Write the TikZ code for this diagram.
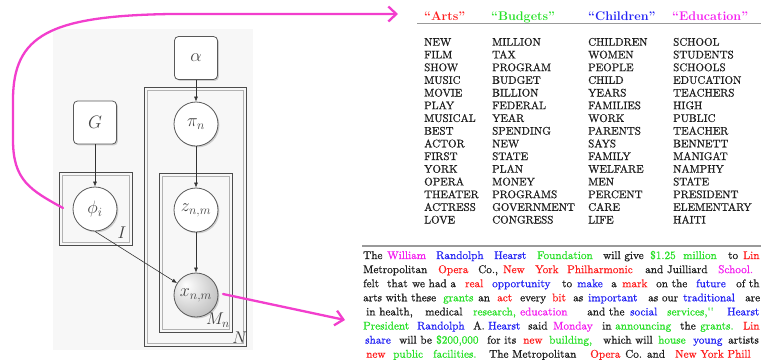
\RequirePackage{fix-cm}
\documentclass[tikz,border=0pt]{standalone}
\usepackage{fontspec}
\usetikzlibrary{arrows.meta,shadows}

% Latin Modern, set slightly heavier for the word lists and the document
\newfontfamily\heavyrm{lmroman10-regular.otf}[FakeBold=0.8]

\definecolor{hlmag}{RGB}{242,62,205}
\definecolor{tr}{RGB}{255,30,30}
\definecolor{tg}{RGB}{40,225,40}
\definecolor{tb}{RGB}{35,35,245}
\definecolor{tm}{RGB}{245,30,240}
\definecolor{tk}{RGB}{30,30,30}
\definecolor{nodetext}{RGB}{70,70,70}

% shading of the observed variable: light spot towards the upper left
\pgfdeclareradialshading{obsball}{\pgfpoint{-12bp}{12bp}}{color(0bp)=(white); color(16bp)=(black!12); color(40bp)=(black!30); color(62bp)=(black!40)}

% one word of running text, set in a box of fixed width
\newcommand\wb[3]{\makebox[#1pt][l]{\textcolor{#2}{#3}}}

\tikzset{
  varnode/.style={circle, draw=black!65, line width=0.8pt, fill=white,
    minimum size=44pt, inner sep=0pt, text=nodetext,
    font=\fontsize{18}{18}\selectfont,
    drop shadow={shadow xshift=1.4pt, shadow yshift=-1.4pt, opacity=0.35}},
  obsnode/.style={varnode, shade, shading=obsball},
  hypnode/.style={rectangle, rounded corners=4pt, draw=black!65, line width=0.8pt,
    fill=white, minimum size=43pt, inner sep=0pt, text=nodetext,
    font=\fontsize{18}{18}\selectfont,
    drop shadow={shadow xshift=1.4pt, shadow yshift=-1.4pt, opacity=0.35}},
  edge/.style={-{Latex[length=5pt,width=4pt]}, black!80, line width=0.6pt},
  plate/.style={draw=black!70, line width=0.8pt},
  plateinner/.style={draw=black!30, line width=0.7pt},
  platelabel/.style={text=black!75, font=\fontsize{17}{17}\selectfont, inner sep=0pt},
  hl/.style={draw=hlmag, line width=2.3pt, line cap=round,
    -{Straight Barb[length=8pt,width=15pt,line width=2.3pt]}},
  rule/.style={draw=black!40, line width=1.1pt},
  hd/.style={anchor=base west, inner sep=0pt, font=\fontsize{12.5}{13}\selectfont\bfseries},
  tw/.style={anchor=base west, inner sep=0pt, text=tk, font=\heavyrm\fontsize{11}{12}\selectfont},
  para/.style={anchor=base west, inner sep=0pt, text=tk, font=\heavyrm\fontsize{11.2}{12}\selectfont},
}

\begin{document}
\begin{tikzpicture}[x=1pt,y=-1pt]
\useasboundingbox (0,0) rectangle (761,360);
\clip (0,0) rectangle (761,360);
\fill[white] (0,0) rectangle (761,360);

% ---------- graphical model ----------
\fill[black!3] (53,29) rectangle (253,350);

% plates
\draw[plate] (144,87) rectangle (246,346);
\draw[plateinner] (147,90) rectangle (243,343);
\draw[plate] (159,173) rectangle (232,332);
\draw[plateinner] (162,176) rectangle (229,329);
\draw[plate] (59,172) rectangle (132,245);
\draw[plateinner] (62,175) rectangle (129,242);

\node[platelabel] (labI) at (122,233) {$I$};
\node[platelabel] (labM) at (218,320) {$M_n$};
\node[platelabel] (labN) at (240,338) {$N$};

% variables
\node[hypnode] (alpha) at (196,58) {$\alpha$};
\node[hypnode] (G) at (95,122.5) {$G$};
\node[varnode] (pi) at (196,124) {$\pi_n$};
\node[varnode] (z) at (196,210) {$z_{n,m}$};
\node[obsnode] (x) at (196,295) {$x_{n,m}$};
\node[varnode] (phi) at (95,209) {$\phi_i$};

\draw[edge] (alpha) -- (pi);
\draw[edge] (G) -- (phi);
\draw[edge] (pi) -- (z);
\draw[edge] (z) -- (x);
\draw[edge] (phi.south) -- (x);

% ---------- topics ----------
\node[hd, text=tr] (hArts) at (424,20) {``Arts''};
\node[hd, text=tg] (hBudgets) at (491,20) {``Budgets''};
\node[hd, text=tb] (hChildren) at (588,20) {``Children''};
\node[hd, text=tm] (hEducation) at (672,20) {``Education''};
\draw[rule] (417,23.5) -- (761,23.5);

\foreach \w [count=\i] in {NEW,FILM,SHOW,MUSIC,MOVIE,PLAY,MUSICAL,BEST,ACTOR,FIRST,YORK,OPERA,THEATER,ACTRESS,LOVE}
  \node[tw] (ca\i) at (424,{45.7+12.7*(\i-1)}) {\w};
\foreach \w [count=\i] in {MILLION,TAX,PROGRAM,BUDGET,BILLION,FEDERAL,YEAR,SPENDING,NEW,STATE,PLAN,MONEY,PROGRAMS,GOVERNMENT,CONGRESS}
  \node[tw] (cb\i) at (492,{45.7+12.7*(\i-1)}) {\w};
\foreach \w [count=\i] in {CHILDREN,WOMEN,PEOPLE,CHILD,YEARS,FAMILIES,WORK,PARENTS,SAYS,FAMILY,WELFARE,MEN,PERCENT,CARE,LIFE}
  \node[tw] (cc\i) at (588,{45.7+12.7*(\i-1)}) {\w};
\foreach \w [count=\i] in {SCHOOL,STUDENTS,SCHOOLS,EDUCATION,TEACHERS,HIGH,PUBLIC,TEACHER,BENNETT,MANIGAT,NAMPHY,STATE,PRESIDENT,ELEMENTARY,HAITI}
  \node[tw] (cd\i) at (673,{45.7+12.7*(\i-1)}) {\w};

% ---------- document ----------
\draw[rule] (362,246) -- (761,246);

\node[para] (l1) at (363,259) {\wb{24}{tk}{The}\wb{49}{tm}{William}\wb{58}{tb}{Randolph}\wb{43}{tb}{Hearst}\wb{66}{tg}{Foundation}\wb{47}{tk}{will give}\wb{33}{tg}{\$1.25}\wb{45}{tg}{million}\wb{15}{tk}{to}\textcolor{tr}{Lin}};
\node[para] (l2) at (363,273.1) {\wb{75}{tk}{Metropolitan}\wb{40}{tr}{Opera}\wb{25}{tk}{Co.,}\wb{32}{tr}{New}\wb{32}{tr}{York}\wb{78}{tr}{Philharmonic}\wb{73}{tk}{and Juilliard}\textcolor{tm}{School.}};
\node[para] (l3) at (363,287.2) {\wb{24}{tk}{felt}\wb{25}{tk}{that}\wb{53}{tk}{we had a}\wb{27}{tr}{real}\wb{70}{tb}{opportunity}\wb{15}{tk}{to}\wb{34}{tb}{make}\wb{11}{tk}{a}\wb{34}{tr}{mark}\wb{40}{tk}{on the}\wb{40}{tb}{future}\textcolor{tk}{of th}};
\node[para] (l4) at (363,301.3) {\wb{80}{tk}{arts with these}\wb{35}{tg}{grants}\wb{19}{tk}{an}\wb{23}{tr}{act}\wb{32}{tk}{every}\wb{21}{tr}{bit}\wb{15}{tk}{as}\wb{60}{tb}{important}\wb{35}{tk}{as our}\wb{62}{tb}{traditional}\textcolor{tk}{are}};
\node[para] (l5) at (366,315.4) {\wb{59}{tk}{in health,}\wb{48}{tk}{medical}\wb{47}{tg}{research,}\wb{67}{tm}{education}\wb{43}{tk}{and the}\wb{37}{tb}{social}\wb{60}{tg}{services,''}\textcolor{tb}{Hearst}};
\node[para] (l6) at (363,329.5) {\wb{54}{tg}{President}\wb{56}{tb}{Randolph}\wb{15}{tk}{A.}\wb{40}{tb}{Hearst}\wb{25}{tk}{said}\wb{49}{tm}{Monday}\wb{13}{tk}{in}\wb{65}{tg}{announcing}\wb{20}{tk}{the}\wb{43}{tg}{grants.}\textcolor{tr}{Lin}};
\node[para] (l7) at (365,343.6) {\wb{34}{tb}{share}\wb{37}{tk}{will be}\wb{51}{tg}{\$200,000}\wb{36}{tk}{for its}\wb{26}{tr}{new}\wb{54}{tg}{building,}\wb{55}{tk}{which will}\wb{35}{tg}{house}\wb{35}{tb}{young}\textcolor{tk}{artists}};
\node[para] (l8) at (366,357.7) {\wb{27}{tr}{new}\wb{40}{tg}{public}\wb{56}{tg}{facilities.}\wb{101}{tk}{The Metropolitan}\wb{35}{tr}{Opera}\wb{50}{tk}{Co. and}\textcolor{tr}{New York Phill}};

% ---------- links from the model to the two panels ----------
\coordinate (hsA) at (63,208);
\coordinate (htA) at (398,14);
\coordinate (hsB) at (223,294);
\coordinate (htB) at (345,320);
\draw[hl] (hsA) .. controls (30,190) and (13,180) .. (13,140) -- (13,100)
  .. controls (13,35) and (50,16) .. (170,14) -- (htA);
\draw[hl] (hsB) -- (htB);
\end{tikzpicture}
\end{document}
